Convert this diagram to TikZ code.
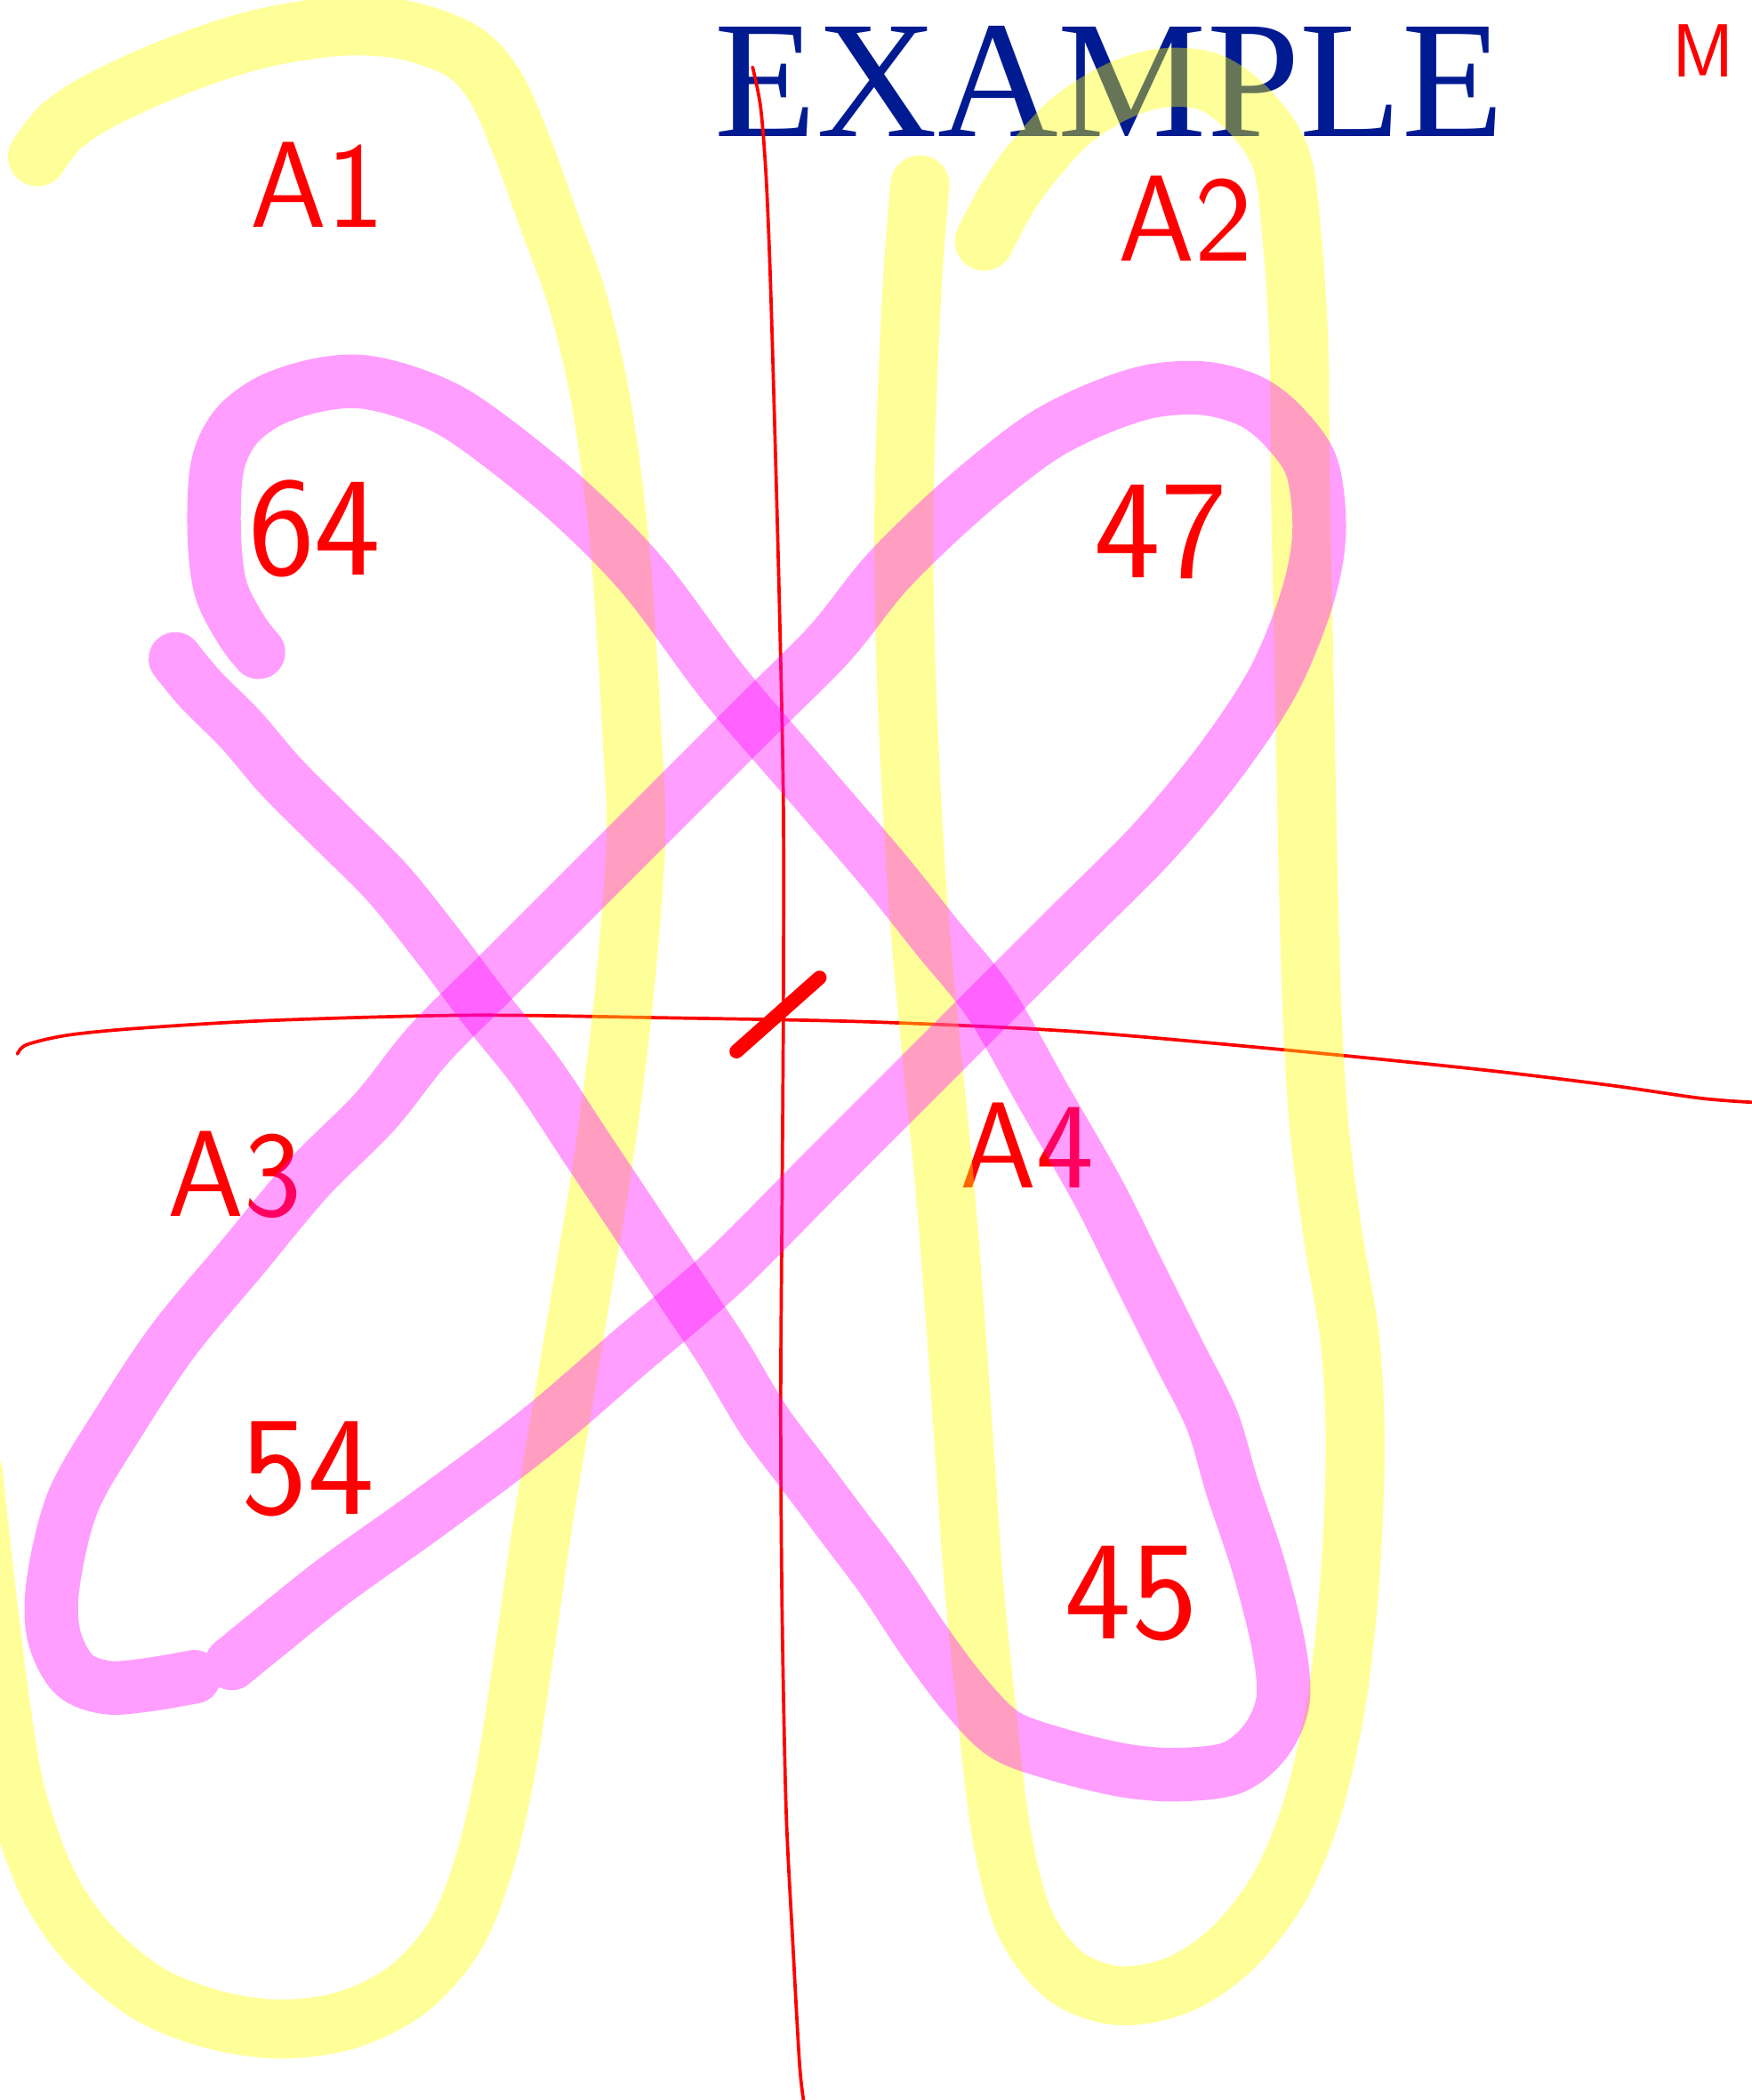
\documentclass[tikz,border=0pt]{standalone}
\usepackage{fontspec}
\newfontfamily\examplefont{Liberation Serif}
\definecolor{exblue}{RGB}{0,26,145}
\definecolor{hlyel}{RGB}{255,255,0}
\definecolor{hlmag}{RGB}{255,0,255}
\tikzset{
  hlyellow/.style={hlyel,opacity=0.4,line width=0.44cm,line cap=round,line join=round},
  hlmagenta/.style={hlmag,opacity=0.38,line width=0.40cm,line cap=round,line join=round},
  ink/.style={red,line width=0.7pt,line cap=round,line join=round},
  inklabel/.style={text=red,inner sep=0pt,font=\sffamily\fontsize{26}{28}\selectfont}
}
\begin{document}
\begin{tikzpicture}[x=0.01cm,y=-0.01cm]
\useasboundingbox (0,0) rectangle (1308,1568);

\node[anchor=base west,inner sep=0pt,text=exblue,font=\examplefont\fontsize{35.5}{40}\selectfont] (title) at (533,102) {EXAMPLE};

% axes
\draw[ink] plot[smooth,tension=0.5] coordinates {(562,50) (568,80) (572,130) (575,200) (578,300) (582,450) (585,600) (585,750) (584,900) (583,1050) (584,1200) (587,1350) (592,1450) (597,1540) (600,1568)};
\draw[ink] plot[smooth,tension=0.5] coordinates {(13,787) (20,780) (50,773) (100,768) (200,762) (350,758) (500,760) (650,763) (800,770) (950,783) (1100,798) (1200,810) (1270,820) (1308,823)};
\draw[ink,line width=3pt] (550,785) -- (612,730);

\node[inklabel] (a1) at (237,138) {A1};
\node[inklabel] (a2) at (885,163) {A2};
\node[inklabel] (a3) at (175,877) {A3};
\node[inklabel] (a4) at (767,855) {A4};
\node[inklabel,font=\sffamily\fontsize{16}{18}\selectfont] (m) at (1272,38) {M};
\node[inklabel,font=\sffamily\fontsize{30}{32}\selectfont] (n64) at (235,395) {64};
\node[inklabel,font=\sffamily\fontsize{30}{32}\selectfont] (n47) at (867,397) {47};
\node[inklabel,font=\sffamily\fontsize{30}{32}\selectfont] (n54) at (230,1097) {54};
\node[inklabel,font=\sffamily\fontsize{30}{32}\selectfont] (n45) at (845,1190) {45};

% yellow loops
\draw[hlyellow] plot[smooth,tension=0.55] coordinates {(28,117) (45,95) (75,75) (130,50) (190,30) (250,20) (300,22) (345,38) (370,65) (390,110) (410,165) (430,220) (445,280) (455,340) (463,410) (468,480) (472,550) (475,620) (470,700) (462,780) (450,870) (435,960) (420,1050) (405,1140) (392,1230) (378,1320) (362,1390) (340,1445) (305,1485) (260,1508) (210,1515) (160,1508) (110,1488) (65,1450) (35,1405) (12,1340) (0,1270) (-10,1190) (-20,1100)};
\draw[hlyellow] plot[smooth,tension=0.55] coordinates {(687,138) (682,200) (678,280) (675,380) (676,480) (680,580) (686,680) (695,780) (705,880) (713,980) (720,1080) (727,1180) (737,1280) (748,1370) (765,1435) (795,1475) (835,1490) (880,1482) (920,1455) (955,1410) (980,1350) (998,1270) (1008,1180) (1012,1080) (1008,1000) (995,920) (985,840) (980,760) (977,660) (975,560) (973,460) (971,360) (970,260) (965,180) (957,120) (935,85) (905,62) (870,58) (835,68) (800,90) (772,120) (752,148) (735,180)};

% magenta loops
\draw[hlmagenta] plot[smooth,tension=0.55] coordinates {(131,492) (150,515) (180,545) (210,580) (250,620) (290,660) (330,710) (360,750) (400,800) (440,860) (480,920) (510,965) (540,1010) (570,1060) (600,1100) (630,1140) (660,1180) (690,1225) (720,1265) (750,1295) (790,1310) (840,1322) (880,1325) (920,1320) (945,1300) (958,1270) (955,1230) (940,1170) (920,1110) (905,1060) (880,1010) (850,950) (820,890) (780,820) (740,750) (700,700) (660,650) (600,580) (540,510) (480,430) (420,370) (350,315) (310,295) (270,285) (235,288) (200,300) (175,320) (162,350) (160,400) (165,440) (180,470) (193,487)};
\draw[hlmagenta] plot[smooth,tension=0.55] coordinates {(173,1242) (200,1220) (250,1180) (320,1130) (400,1070) (470,1010) (540,950) (610,880) (680,810) (740,750) (800,690) (860,630) (910,570) (950,510) (975,450) (985,400) (980,350) (960,320) (935,300) (900,290) (860,292) (820,305) (780,325) (740,355) (700,390) (660,430) (620,480) (570,530) (520,580) (470,630) (420,680) (370,730) (320,780) (280,830) (230,880) (180,940) (130,1000) (90,1060) (55,1120) (40,1180) (40,1220) (55,1250) (80,1260) (110,1258) (145,1252)};
\end{tikzpicture}
\end{document}
